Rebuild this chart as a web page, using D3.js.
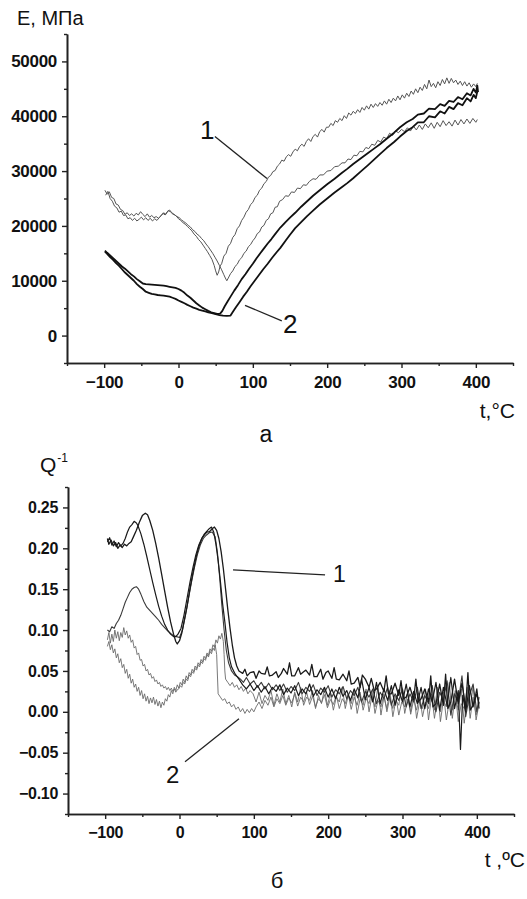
<!DOCTYPE html>
<html>
<head>
<meta charset="utf-8">
<script src="https://cdn.jsdelivr.net/npm/d3@7"></script>
<style>
  html, body { margin: 0; background: #fff; }
  svg { display: block; font-family: "Liberation Sans", Arial, sans-serif; }
</style>
</head>
<body>
<div id="chart"></div>
<script>
// ---- panel (a): modulus E, MPa vs t, °C -------------------------------

const tTicks = [-100, 0, 100, 200, 300, 400];
const tMinor = [-150, -50, 50, 150, 250, 350, 450];
const eTicks = [0, 10000, 20000, 30000, 40000, 50000];
const eMinor = [-5000, 5000, 15000, 25000, 35000, 45000, 55000];

// curve 1, thin traces
const modThinA = [[-99,26500],[-96,25800],[-93,26200],[-90,25200],[-87,25000],[-84,24000],[-81,23800],[-78,23000],[-75,22800],[-72,22100],[-69,22400],[-66,21900],[-63,22200],[-60,21800],[-57,22300],[-54,22000],[-51,22600],[-48,22100],[-45,21700],[-42,22200],[-39,21600],[-36,21900],[-33,21500],[-30,21700],[-27,21400],[-24,21800],[-21,22300],[-18,22000],[-15,22600],[-12,22900],[-9,22400],[-6,22100],[-3,21800],[0,21300],[3,21000],[6,20600],[9,20300],[12,19900],[15,19500],[18,19100],[21,18500],[24,18100],[27,17500],[30,17100],[33,16500],[36,15900],[39,15300],[42,14600],[45,13900],[48,12800],[50,11800],[52,11000],[54,11600],[56,12700],[58,13100],[61,14500],[64,15000],[67,16300],[70,16800],[73,17900],[76,18400],[79,19500],[82,20000],[85,21000],[88,21600],[91,22500],[94,23000],[97,23900],[100,24300],[103,25200],[106,25600],[109,26500],[112,26900],[115,27700],[118,28100],[121,28900],[124,29200],[127,29900],[130,30100],[133,30900],[136,31300],[139,32000],[142,31800],[145,32600],[148,33000],[151,32700],[154,33500],[157,34000],[160,33700],[163,34500],[166,34900],[169,34500],[172,35400],[175,35900],[178,35400],[181,36300],[184,36700],[187,36200],[190,37200],[193,37600],[196,37100],[199,38000],[202,38000],[205,38700],[208,38300],[211,39200],[214,38900],[217,39600],[220,39200],[223,40100],[226,39600],[229,40600],[232,40200],[235,40900],[238,40500],[241,41200],[244,40700],[247,41600],[250,41100],[253,41900],[256,41300],[259,42200],[262,41600],[265,42300],[268,41800],[271,42500],[274,42000],[277,42800],[280,42200],[283,43100],[286,42500],[289,43300],[292,42800],[295,43700],[298,43000],[301,43900],[304,43300],[307,44200],[310,43600],[313,44600],[316,44000],[319,45000],[322,44300],[325,45300],[328,44700],[331,45800],[334,45000],[337,46600],[340,45400],[343,46000],[346,45200],[349,46300],[352,45600],[355,46700],[358,45900],[361,47000],[364,46000],[367,46900],[370,46100],[373,46600],[376,45800],[379,46400],[382,45600],[385,46300],[388,45500],[391,46100],[394,45300],[397,45900],[400,45400],[402,46000]];

const modThinB = [[-98,25600],[-95,26300],[-92,25000],[-89,24500],[-86,23600],[-83,23300],[-80,22500],[-77,22700],[-74,21900],[-71,22000],[-68,21300],[-65,21500],[-62,21000],[-59,21400],[-56,20900],[-53,21200],[-50,21600],[-47,21100],[-44,21500],[-41,21000],[-38,21400],[-35,20900],[-32,21300],[-29,21000],[-26,21500],[-23,21900],[-20,22400],[-17,22100],[-14,22800],[-11,22600],[-8,22200],[-5,22000],[-2,21700],[1,21500],[4,21100],[7,20800],[10,20500],[13,20100],[16,19800],[19,19300],[22,19000],[25,18500],[28,18200],[31,17700],[34,17300],[37,16700],[40,16200],[43,15600],[46,15000],[49,14300],[52,13600],[55,12800],[58,12000],[61,11100],[63,10500],[65,10000],[67,10500],[70,11300],[73,11800],[76,12600],[79,13000],[82,13800],[85,14200],[88,15000],[91,15400],[94,16200],[97,16600],[100,17300],[103,17800],[106,18600],[109,18900],[112,19800],[115,20100],[118,21000],[121,21300],[124,22200],[127,22400],[130,23400],[133,23500],[136,24500],[140,24800],[144,25500],[148,25400],[152,26200],[156,26100],[160,26900],[164,26800],[168,27500],[172,27400],[176,28100],[181,28600],[185,28500],[190,29300],[195,29300],[200,30000],[205,30100],[210,30800],[215,30900],[220,31500],[224,31500],[228,32200],[232,32100],[236,32900],[240,32800],[244,33600],[248,33500],[252,34300],[256,34100],[260,34900],[264,34700],[268,35600],[272,35300],[276,36200],[280,35900],[284,36900],[288,36500],[292,37300],[296,37000],[300,37600],[304,37200],[308,37900],[312,37300],[316,38200],[320,37500],[324,38400],[328,37600],[332,38600],[336,37900],[340,38800],[344,37800],[348,38900],[352,38100],[356,39200],[360,38300],[364,39000],[368,38200],[372,39300],[376,38400],[380,39400],[384,38600],[388,39500],[392,38700],[396,39600],[400,38900],[402,39400]];

// curve 2, thick traces
const modThickC = [[-99,15500],[-96,15100],[-92,14600],[-88,14100],[-84,13600],[-80,13100],[-76,12600],[-72,12200],[-68,11700],[-64,11200],[-60,10800],[-56,10300],[-52,9900],[-48,9500],[-44,9400],[-40,9350],[-36,9300],[-32,9250],[-28,9200],[-24,9150],[-20,9100],[-16,9000],[-12,8900],[-8,8800],[-4,8700],[0,8500],[4,8200],[8,7800],[12,7300],[16,6900],[20,6400],[24,5900],[28,5500],[32,5100],[36,4800],[40,4500],[44,4250],[48,4100],[52,3950],[56,4000],[59,4500],[62,5300],[66,6200],[70,7100],[75,8200],[80,9200],[85,10300],[90,11200],[95,12200],[100,13100],[105,14100],[110,15000],[115,15900],[120,16800],[125,17600],[130,18500],[137,19700],[144,20700],[150,21500],[157,22400],[165,23500],[173,24500],[181,25500],[190,26500],[200,27600],[210,28600],[220,29700],[227,30400],[235,31300],[245,32300],[255,33300],[263,34100],[271,34900],[280,35900],[290,37000],[298,38000],[307,38900],[315,39500],[322,40300],[330,40500],[337,41400],[345,41300],[352,42200],[358,41900],[364,42800],[370,42600],[376,43500],[382,43100],[388,44200],[393,43800],[397,45000],[400,44300],[402,45600],[403,44400]];

const modThickD = [[-99,15300],[-96,14900],[-92,14300],[-88,13800],[-84,13200],[-80,12700],[-76,12100],[-72,11500],[-68,11000],[-64,10500],[-60,10000],[-56,9400],[-52,8900],[-48,8500],[-44,8000],[-40,7800],[-36,7600],[-32,7500],[-28,7400],[-24,7350],[-20,7300],[-16,7200],[-12,7100],[-8,6900],[-4,6700],[0,6400],[4,6150],[8,5900],[12,5600],[16,5350],[20,5100],[24,4900],[28,4700],[32,4550],[36,4400],[40,4250],[45,4100],[50,3900],[55,3750],[60,3650],[65,3600],[70,3650],[73,4300],[77,5100],[82,6100],[87,7100],[92,8000],[97,9000],[102,9900],[108,11000],[114,12100],[120,13100],[126,14200],[132,15200],[137,16000],[144,17300],[150,18400],[157,19600],[165,20700],[173,21800],[181,22800],[190,23900],[200,25000],[210,26100],[220,27100],[227,27800],[235,28700],[245,29900],[255,31100],[263,32100],[271,33100],[280,34200],[290,35300],[298,36300],[307,37300],[315,38000],[322,38900],[330,38900],[337,40000],[345,39800],[352,40900],[358,40500],[364,41700],[370,41300],[376,42400],[382,42000],[388,43300],[393,42700],[397,43900],[400,43300],[402,44500]];

// ---- panel (б): internal friction Q^-1 vs t, °C -------------------------

const qTicks = [-0.10, -0.05, 0.00, 0.05, 0.10, 0.15, 0.20, 0.25];
const qMinor = [-0.125, -0.075, -0.025, 0.025, 0.075, 0.125, 0.175, 0.225, 0.275];

// curve 1, two dark traces
const lossA = [[-97,.212],[-95,.205],[-92,.210],[-89,.203],[-86,.207],[-83,.200],[-80,.204],[-77,.201],[-74,.205],[-71,.203],[-68,.206],[-65,.208],[-62,.214],[-58,.222],[-54,.232],[-50,.240],[-46,.243],[-43,.241],[-40,.234],[-36,.222],[-32,.206],[-28,.188],[-24,.168],[-20,.148],[-16,.128],[-12,.110],[-8,.095],[-5,.086],[-3,.083],[0,.087],[3,.096],[6,.110],[10,.128],[14,.150],[18,.170],[22,.188],[26,.202],[30,.212],[34,.217],[37,.220],[40,.220],[44,.224],[47,.226],[50,.222],[53,.212],[56,.196],[59,.175],[62,.150],[65,.125],[68,.102],[71,.082],[74,.066],[77,.056],[80,.050],[85,.047],[88,.052],[91,.044],[95,.048],[100,.049],[103,.041],[107,.050],[110,.047],[115,.046],[118,.055],[121,.044],[125,.045],[130,.049],[133,.042],[137,.047],[140,.053],[145,.046],[148,.060],[151,.044],[155,.044],[160,.054],[163,.046],[167,.049],[170,.051],[175,.045],[178,.058],[181,.043],[185,.043],[190,.052],[193,.040],[197,.048],[200,.050],[205,.041],[208,.054],[211,.040],[215,.039],[220,.046],[225,.038],[228,.050],[231,.034],[235,.035],[240,.042],[243,.030],[246,.045],[250,.040],[255,.030],[258,.041],[262,.026],[265,.028],[270,.036],[275,.025],[278,.044],[281,.022],[285,.022],[290,.035],[295,.020],[298,.038],[301,.016],[305,.018],[310,.030],[315,.015],[318,.040],[321,.012],[325,.016],[330,.028],[335,.012],[338,.044],[341,.006],[345,.010],[350,.034],[355,.008],[358,.046],[361,.004],[365,.012],[370,.040],[375,.010],[380,.035],[385,.005],[388,.048],[391,.002],[395,.008],[400,.022],[403,.010]];

const lossB = [[-97,.208],[-94,.213],[-91,.204],[-88,.209],[-85,.202],[-82,.207],[-79,.203],[-76,.206],[-73,.212],[-70,.220],[-67,.226],[-64,.229],[-61,.233],[-58,.231],[-56,.228],[-52,.218],[-48,.205],[-44,.190],[-40,.174],[-36,.158],[-32,.143],[-28,.129],[-24,.117],[-20,.107],[-16,.100],[-12,.095],[-8,.092],[-5,.092],[-2,.095],[2,.102],[6,.118],[10,.138],[14,.158],[18,.176],[22,.192],[26,.204],[30,.212],[33,.217],[36,.220],[40,.224],[43,.226],[46,.220],[49,.205],[52,.185],[55,.160],[58,.132],[61,.110],[64,.085],[67,.066],[70,.055],[75,.046],[80,.040],[85,.033],[90,.028],[95,.034],[100,.026],[105,.032],[110,.024],[115,.031],[120,.022],[125,.030],[130,.025],[135,.033],[140,.021],[145,.029],[150,.023],[155,.032],[160,.020],[165,.028],[170,.022],[175,.034],[180,.019],[185,.027],[190,.021],[195,.030],[200,.018],[205,.028],[210,.016],[215,.030],[220,.019],[225,.026],[230,.014],[235,.028],[240,.017],[245,.040],[250,.015],[255,.030],[260,.012],[265,.036],[270,.010],[275,.028],[280,.014],[285,.032],[290,.008],[295,.027],[300,.012],[305,.034],[310,.006],[315,.025],[320,.010],[325,.030],[330,.004],[335,.028],[340,.012],[345,.036],[350,.002],[355,.030],[360,.008],[365,.042],[370,.004],[375,.026],[378,-.046],[381,.020],[385,.000],[390,.032],[395,.006],[400,.028],[403,.004]];

// medium trace with the small low-temperature peak
const lossC = [[-97,.100],[-94,.098],[-91,.104],[-88,.102],[-85,.108],[-82,.112],[-79,.118],[-76,.126],[-73,.134],[-70,.140],[-67,.146],[-64,.150],[-61,.152],[-58,.153],[-55,.150],[-52,.144],[-48,.135],[-44,.128],[-40,.124],[-36,.120],[-32,.116],[-28,.112],[-24,.107],[-20,.103],[-16,.099],[-12,.096],[-8,.093],[-4,.092],[0,.091],[4,.100],[8,.118],[12,.138],[16,.158],[20,.176],[24,.192],[28,.204],[32,.212],[36,.216],[40,.219],[44,.220],[48,.214],[51,.195],[54,.165],[57,.130],[60,.100],[63,.075],[66,.060],[70,.050],[74,.045],[78,.043],[82,.040],[86,.036],[90,.042],[95,.034],[100,.038],[105,.030],[110,.036],[115,.028],[120,.035],[125,.027],[130,.033],[135,.026],[140,.034],[145,.024],[150,.031],[155,.026],[160,.036],[165,.022],[170,.030],[175,.025],[180,.033],[185,.020],[190,.029],[195,.024],[200,.032],[205,.018],[210,.027],[215,.022],[220,.031],[225,.016],[230,.026],[235,.020],[240,.030],[245,.012],[250,.025],[255,.018],[260,.028],[265,.010],[270,.024],[275,.016],[280,.030],[285,.008],[290,.022],[295,.014],[300,.028],[305,.006],[310,.022],[315,.012],[320,.030],[325,.004],[330,.020],[335,.010],[340,.032],[345,.000],[350,.024],[355,.014],[360,.038],[365,-.004],[370,.022],[375,.012],[380,.044],[385,-.006],[390,.020],[395,.034],[400,.000],[403,.018]];

// curve 2, two grey traces
const lossD = [[-97,.088],[-95,.097],[-93,.084],[-91,.095],[-89,.086],[-87,.100],[-85,.090],[-83,.098],[-81,.087],[-79,.097],[-77,.091],[-75,.103],[-73,.094],[-71,.099],[-69,.090],[-67,.094],[-65,.085],[-63,.088],[-61,.078],[-59,.080],[-57,.070],[-55,.072],[-53,.063],[-51,.064],[-49,.056],[-47,.058],[-45,.050],[-43,.052],[-41,.045],[-39,.047],[-37,.041],[-35,.043],[-33,.037],[-31,.039],[-29,.034],[-27,.036],[-25,.031],[-23,.033],[-21,.029],[-19,.031],[-17,.027],[-15,.030],[-13,.026],[-11,.029],[-9,.025],[-7,.028],[-5,.024],[-3,.027],[-1,.028],[1,.032],[3,.030],[5,.036],[7,.034],[9,.040],[11,.038],[13,.045],[15,.043],[17,.049],[19,.047],[21,.053],[23,.051],[25,.057],[27,.055],[29,.061],[31,.059],[33,.065],[35,.063],[37,.070],[39,.067],[41,.074],[43,.071],[45,.078],[47,.075],[48,.082],[50,.070],[51,.045],[52,.022],[55,.018],[58,.014],[61,.016],[64,.010],[67,.012],[70,.006],[73,.009],[76,.003],[79,.006],[82,.000],[85,.004],[88,-.002],[91,.003],[94,-.001],[97,.004],[100,.000],[103,.006],[107,.012],[111,.004],[115,.014],[119,.008],[123,.018],[127,.006],[131,.016],[135,.010],[139,.020],[143,.008],[147,.017],[151,.011],[155,.022],[159,.007],[163,.018],[167,.012],[171,.024],[175,.009],[179,.019],[183,.006],[187,.016],[191,.011],[195,.021],[199,.005],[203,.015],[207,.009],[211,.020],[215,.004],[219,.016],[223,.010],[227,.022],[231,.003],[235,.018],[239,.008],[243,.024],[247,.002],[251,.016],[255,.010],[259,.026],[263,-.002],[267,.014],[271,.006],[275,.022],[279,.000],[283,.018],[287,.004],[291,.020],[295,-.004],[299,.012],[303,.006],[307,.024],[311,-.003],[315,.015],[319,.002],[323,.020],[327,-.006],[331,.012],[335,.004],[339,.022],[343,-.008],[347,.016],[351,.000],[355,.024],[359,-.010],[363,.014],[367,.002],[371,.026],[375,-.012],[379,.010],[383,.004],[387,.030],[391,-.008],[395,.018],[399,-.004],[403,.012]];

const lossE = [[-97,.080],[-95,.086],[-93,.076],[-91,.082],[-89,.072],[-87,.077],[-85,.066],[-83,.071],[-81,.060],[-79,.065],[-77,.054],[-75,.058],[-73,.047],[-71,.052],[-69,.041],[-67,.046],[-65,.035],[-63,.040],[-61,.030],[-59,.034],[-57,.025],[-55,.030],[-53,.020],[-51,.026],[-49,.016],[-47,.022],[-45,.013],[-43,.019],[-41,.010],[-39,.017],[-37,.011],[-35,.018],[-33,.009],[-31,.015],[-29,.007],[-27,.013],[-25,.005],[-23,.012],[-21,.008],[-19,.016],[-17,.013],[-15,.021],[-13,.018],[-11,.026],[-9,.022],[-7,.030],[-5,.026],[-3,.033],[-1,.029],[1,.036],[3,.033],[5,.040],[7,.036],[9,.044],[11,.040],[13,.048],[15,.045],[17,.052],[19,.049],[21,.056],[23,.053],[25,.060],[27,.057],[29,.064],[31,.061],[33,.068],[35,.065],[37,.072],[39,.069],[41,.077],[43,.074],[45,.082],[47,.079],[49,.088],[51,.084],[53,.093],[55,.089],[57,.096],[59,.086],[60,.070],[61,.050],[62,.040],[65,.036],[68,.032],[71,.036],[74,.030],[77,.033],[80,.027],[83,.031],[86,.025],[89,.029],[92,.022],[95,.026],[99,.022],[103,.012],[107,.024],[111,.010],[115,.020],[119,.014],[123,.026],[127,.008],[131,.022],[135,.012],[139,.028],[143,.010],[147,.020],[151,.006],[155,.024],[159,.012],[163,.030],[167,.008],[171,.018],[175,.014],[179,.026],[183,.004],[187,.020],[191,.010],[195,.028],[199,.008],[203,.022],[207,.002],[211,.018],[215,.012],[219,.030],[223,.004],[227,.020],[231,.010],[235,.026],[239,-.002],[243,.016],[247,.008],[251,.028],[255,.000],[259,.020],[263,.006],[267,.032],[271,-.004],[275,.018],[279,.004],[283,.026],[287,-.006],[291,.014],[295,.008],[299,.030],[303,-.002],[307,.016],[311,.000],[315,.024],[319,-.008],[323,.012],[327,.004],[331,.028],[335,-.010],[339,.018],[343,.002],[347,.030],[351,-.012],[355,.014],[359,.006],[363,.036],[367,-.008],[371,.020],[375,.002],[379,.028],[383,-.014],[387,.016],[391,.004],[395,.032],[399,-.010],[403,.010]];

// ---- drawing -------------------------------------------------------------

const W = 527, H = 899;
const svg = d3.select('#chart').append('svg')
  .attr('width', W).attr('height', H);

function drawPanel(p) {
  const x = d3.scaleLinear().domain([-150, 450]).range([p.left, p.right]);
  const y = d3.scaleLinear().domain(p.yDomain).range([p.bottom, p.top]);
  const g = svg.append('g');

  // traces, grey first so the dark ones sit on top
  const line = d3.line().x(d => x(d[0])).y(d => y(d[1]));
  p.series.forEach(s => {
    g.append('path')
      .datum(s.data)
      .attr('fill', 'none')
      .attr('stroke', s.color)
      .attr('stroke-width', s.width)
      .attr('stroke-linejoin', 'round')
      .attr('d', line);
  });

  // axes: major ticks with labels, minor ticks without
  const styleAxis = sel => {
    sel.selectAll('.domain').attr('stroke', '#222').attr('stroke-width', 1.6);
    sel.selectAll('.tick line').attr('stroke', '#222').attr('stroke-width', 1.4);
  };
  const xAxis = g.append('g').attr('transform', `translate(0,${p.bottom})`)
    .call(d3.axisBottom(x).tickValues(tTicks).tickSize(5).tickSizeOuter(0).tickPadding(8));
  g.append('g').attr('transform', `translate(0,${p.bottom})`)
    .call(d3.axisBottom(x).tickValues(tMinor).tickSize(3).tickSizeOuter(0).tickFormat(''))
    .call(styleAxis);
  const yAxis = g.append('g').attr('transform', `translate(${p.left},0)`)
    .call(d3.axisLeft(y).tickValues(p.yTicks).tickSize(5).tickSizeOuter(0).tickPadding(5).tickFormat(p.yFormat));
  g.append('g').attr('transform', `translate(${p.left},0)`)
    .call(d3.axisLeft(y).tickValues(p.yMinor).tickSize(3).tickSizeOuter(0).tickFormat(''))
    .call(styleAxis);
  [xAxis, yAxis].forEach(a => {
    a.call(styleAxis);
    a.selectAll('text').attr('fill', '#111')
      .attr('font-size', p.tickFont).attr('font-weight', 'bold')
      .attr('letter-spacing', '-0.3')
      .attr('font-family', '"Liberation Sans", Arial, sans-serif');
  });

  // leader lines and curve numbers
  p.notes.forEach(n => {
    g.append('line')
      .attr('x1', x(n.from[0])).attr('y1', y(n.from[1]))
      .attr('x2', x(n.to[0])).attr('y2', y(n.to[1]))
      .attr('stroke', '#222').attr('stroke-width', 1.3);
    g.append('text')
      .attr('x', x(n.at[0])).attr('y', y(n.at[1]))
      .attr('font-size', n.size).attr('fill', '#111')
      .text(n.label);
  });
  return { x, y, g };
}

// panel (a)
const pa = drawPanel({
  left: 67, right: 513, top: 34, bottom: 363,
  yDomain: [-5000, 55000], yTicks: eTicks, yMinor: eMinor,
  yFormat: d3.format('d'), tickFont: 17,
  series: [
    { data: modThinB, color: '#555', width: 1 },
    { data: modThinA, color: '#555', width: 1 },
    { data: modThickD, color: '#111', width: 1.8 },
    { data: modThickC, color: '#111', width: 1.8 }
  ],
  notes: [
    { label: '1', size: 26, at: [29, 35900], from: [49, 36300], to: [119, 28650] },
    { label: '2', size: 26, at: [140.6, 550], from: [89.5, 5500], to: [139, 2700] }
  ]
});

svg.append('text').attr('x', 17).attr('y', 25)
  .attr('font-size', 20).attr('fill', '#111').text('E, МПа');
svg.append('text').attr('x', 515).attr('y', 418).attr('text-anchor', 'end')
  .attr('font-size', 21).attr('fill', '#111').text('t,°C');
svg.append('text').attr('x', 266).attr('y', 442).attr('text-anchor', 'middle')
  .attr('font-size', 23).attr('fill', '#111').text('а');

// panel (б)
const pb = drawPanel({
  left: 68, right: 514, top: 487, bottom: 814,
  yDomain: [-0.125, 0.275], yTicks: qTicks, yMinor: qMinor,
  yFormat: d3.format('.2f'), tickFont: 16,
  series: [
    { data: lossE, color: '#6a6a6a', width: 0.9 },
    { data: lossD, color: '#6a6a6a', width: 0.9 },
    { data: lossC, color: '#3a3a3a', width: 1.1 },
    { data: lossB, color: '#1a1a1a', width: 1.2 },
    { data: lossA, color: '#1a1a1a', width: 1.3 }
  ],
  notes: [
    { label: '1', size: 23, at: [206.5, 0.159], from: [72, 0.1736], to: [195.8, 0.1675] },
    { label: '2', size: 24, at: [-18, -0.087], from: [7.4, -0.061], to: [80, -0.0086] }
  ]
});

const qLabel = svg.append('text').attr('x', 40).attr('y', 472)
  .attr('font-size', 21).attr('fill', '#111');
qLabel.append('tspan').text('Q');
qLabel.append('tspan').attr('font-size', 12).attr('dy', -10).attr('dx', 1).text('-1');
svg.append('text').attr('x', 525).attr('y', 867).attr('text-anchor', 'end')
  .attr('font-size', 21).attr('fill', '#111').text('t ,ºC');
svg.append('text').attr('x', 277).attr('y', 888).attr('text-anchor', 'middle')
  .attr('font-size', 22).attr('fill', '#111').text('б');
</script>
</body>
</html>
